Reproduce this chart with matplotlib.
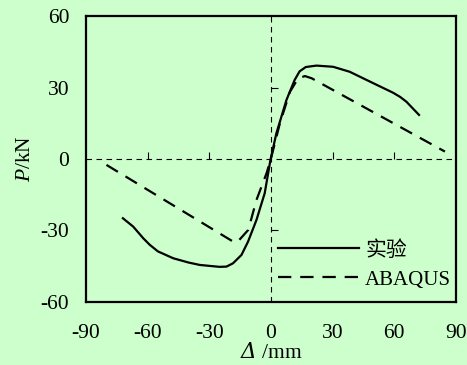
import matplotlib.pyplot as plt

# test curve (实验)
test_disp = [-72, -67, -62.1, -59, -55, -47.5, -40, -34.6, -25, -21.6, -18.4, -14.3, -11.1, -7, -3, -0.2,
             2.7, 7.6, 11.6, 14, 17, 22.2, 30.3, 38.4, 46.5, 53, 59.5, 63, 66, 72.1]
test_load = [-24.9, -28.4, -33.3, -36, -38.8, -41.7, -43.5, -44.5, -45.3, -45.2, -43.8, -40.3, -34.7, -25.6, -14.4, -0.4,
             10.8, 24.8, 33.2, 36.8, 38.6, 39.2, 38.7, 36.6, 33.2, 30.5, 27.8, 26, 24, 18.5]

# ABAQUS curve
fem_disp = [-80, -17.6, -16, -11, -7, -2.1, 0, 4.4, 9.3, 13.3, 16.6, 19.8, 84.7]
fem_load = [-2.5, -35.1, -34.6, -29.8, -17.2, -6, 0, 15, 28.2, 33.9, 34.8, 33.9, 3.1]

x_ticks = [-90, -60, -30, 0, 30, 60, 90]
y_ticks = [-60, -30, 0, 30, 60]

bg = '#ccffcc'

plt.rcParams['font.family'] = ['Liberation Serif', 'Noto Sans CJK SC']
plt.rcParams['mathtext.fontset'] = 'custom'
plt.rcParams['mathtext.rm'] = 'Liberation Serif'
plt.rcParams['mathtext.it'] = 'Liberation Serif:italic'
plt.rcParams['mathtext.sf'] = 'DejaVu Serif:italic'  # slanted Delta
plt.rcParams['axes.unicode_minus'] = False

fig = plt.figure(figsize=(4.67, 3.65), dpi=100, facecolor=bg)
ax = fig.add_axes([0.184, 0.173, 0.792, 0.783], facecolor=bg)

ax.axhline(0, color='k', lw=0.8, ls=(0, (5, 4)))
ax.axvline(0, color='k', lw=0.8, ls=(0, (5, 4)))
ax.plot([-60, -30, 30, 60], [0, 0, 0, 0], ls='none', marker=2, ms=5, mew=0.8, color='k')
ax.plot([0, 0], [-30, 30], ls='none', marker=1, ms=5, mew=0.8, color='k')

ax.plot(test_disp, test_load, color='k', lw=1.6, label='实验')
ax.plot(fem_disp, fem_load, color='k', lw=1.6, ls=(0, (6, 4)), label='ABAQUS')

ax.set_xlim(-90, 90)
ax.set_ylim(-60, 60)
ax.set_xticks(x_ticks)
ax.set_yticks(y_ticks)
ax.tick_params(length=0, labelsize=15.5)
ax.tick_params(axis='x', pad=16)
ax.tick_params(axis='y', pad=12)
for s in ax.spines.values():
    s.set_linewidth(1.6)

ax.set_xlabel('$\\mathsf{Δ}$ /mm', fontsize=15.5, labelpad=0)
ax.set_ylabel(r'$\mathit{P}$/kN', fontsize=15.5, labelpad=4)

ax.legend(loc='center left', bbox_to_anchor=(0.49, 0.128), frameon=False, fontsize=15,
          handlelength=3.9, handletextpad=0.3, labelspacing=0.45, borderpad=0)

fig.savefig('out.png', dpi=100, facecolor=bg)
